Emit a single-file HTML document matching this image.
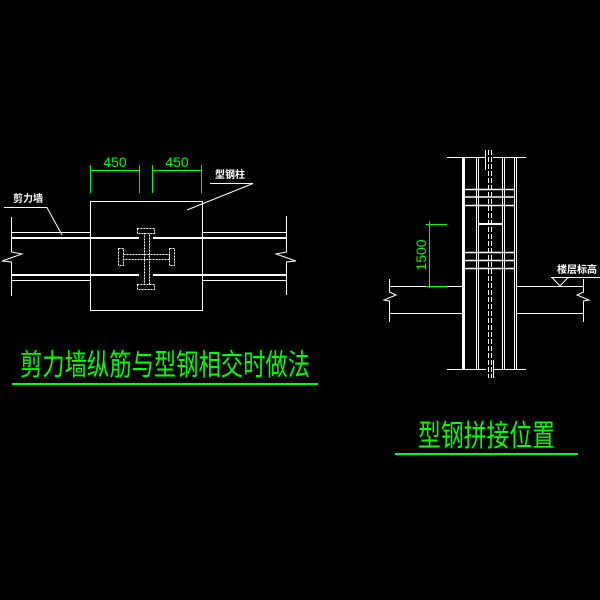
<!DOCTYPE html>
<html><head><meta charset="utf-8"><style>
html,body{margin:0;padding:0;background:#000;width:600px;height:600px;overflow:hidden}
svg{display:block}
.t{font-family:"Liberation Sans","Noto Sans CJK SC",sans-serif}
</style></head><body>
<svg width="600" height="600" viewBox="0 0 600 600" xmlns="http://www.w3.org/2000/svg">
<rect width="600" height="600" fill="#000"/>
<g stroke="#fff" stroke-width="1" fill="none">
<!-- left drawing -->
<rect x="90.5" y="201.5" width="112" height="109"/>
<line x1="11" y1="232.5" x2="90" y2="232.5"/>
<line x1="11" y1="238" x2="139" y2="238" stroke-width="2"/>
<line x1="153" y1="238" x2="286" y2="238" stroke-width="2"/>
<line x1="202" y1="232.5" x2="286" y2="232.5"/>
<line x1="11" y1="275" x2="139" y2="275" stroke-width="2"/>
<line x1="153" y1="275" x2="286" y2="275" stroke-width="2"/>
<line x1="11" y1="280.5" x2="90" y2="280.5"/>
<line x1="202" y1="280.5" x2="286" y2="280.5"/>
<polyline points="11.5,217 11.5,252 22,254 2,261 11.5,262 11.5,296"/>
<polyline points="286.5,216 286.5,252 276,254 296,261 286.5,262 286.5,295"/>
<polyline points="4,207.5 47,207.5 62,235"/>
<polyline points="210,183.5 253,183.5 187,210"/>
<!-- I beam cross -->
<g stroke-dasharray="2,1">
<rect x="137.5" y="228.5" width="17" height="5"/>
<rect x="137.5" y="284.5" width="17" height="5"/>
<rect x="144.5" y="233.5" width="5" height="51"/>
<rect x="118.5" y="248.5" width="5" height="17"/>
<rect x="169.5" y="248.5" width="5" height="17"/>
<rect x="123.5" y="254.5" width="46" height="5"/>
</g>
<!-- right drawing -->
<line x1="447" y1="157.5" x2="485" y2="157.5"/>
<line x1="493" y1="157.5" x2="526" y2="157.5"/>
<line x1="447" y1="369.5" x2="486" y2="369.5"/>
<line x1="493" y1="369.5" x2="526" y2="369.5"/>
<rect x="462" y="157" width="3" height="213" fill="#fff" stroke="none"/>
<line x1="476.5" y1="157" x2="476.5" y2="370"/>
<line x1="478.5" y1="157" x2="478.5" y2="370"/>
<line x1="502.5" y1="157" x2="502.5" y2="370"/>
<line x1="504.5" y1="157" x2="504.5" y2="370"/>
<line x1="514.5" y1="157" x2="514.5" y2="370"/>
<line x1="516.5" y1="157" x2="516.5" y2="370"/>
<line x1="488.5" y1="150" x2="488.5" y2="378" stroke-dasharray="5,2"/>
<line x1="491.5" y1="150" x2="491.5" y2="378" stroke-dasharray="5,2"/>
<line x1="485.5" y1="150" x2="485.5" y2="170"/>
<line x1="493.5" y1="360" x2="493.5" y2="378"/>
<g stroke-width="1.5">
<line x1="465" y1="189.5" x2="514" y2="189.5"/>
<line x1="465" y1="197" x2="514" y2="197"/>
<line x1="465" y1="205.5" x2="514" y2="205.5"/>
<line x1="465" y1="252.5" x2="514" y2="252.5"/>
<line x1="465" y1="260.5" x2="514" y2="260.5"/>
<line x1="465" y1="268.5" x2="514" y2="268.5"/>
<line x1="478" y1="224" x2="503" y2="224" stroke-width="2"/>
</g>
<polyline points="389.5,279 389.5,292 396,295 384,300 389.5,301 389.5,322"/>
<line x1="389" y1="286.5" x2="462" y2="286.5"/>
<line x1="389" y1="313.5" x2="462" y2="313.5"/>
<line x1="517" y1="286.5" x2="583" y2="286.5"/>
<line x1="517" y1="313.5" x2="583" y2="313.5"/>
<polyline points="583.5,279 583.5,292 577,295 589,300 583.5,301 583.5,322"/>
<line x1="551" y1="277.5" x2="600" y2="277.5"/>
<polyline points="552,277.5 560,286 568,277.5"/>
</g>
<!-- green dims -->
<g stroke="#0f0" stroke-width="1" fill="none">
<line x1="90" y1="170.5" x2="139" y2="170.5"/>
<line x1="152" y1="170.5" x2="201" y2="170.5"/>
<line x1="90.5" y1="165" x2="90.5" y2="193"/>
<line x1="139.5" y1="165" x2="139.5" y2="193"/>
<line x1="152.5" y1="165" x2="152.5" y2="193"/>
<line x1="201.5" y1="165" x2="201.5" y2="193"/>
<line x1="429.5" y1="221" x2="429.5" y2="288"/>
<line x1="426" y1="224.5" x2="447" y2="224.5"/>
<line x1="426" y1="286.5" x2="447" y2="286.5"/>
<line x1="12" y1="384" x2="318" y2="384" stroke-width="2"/>
<line x1="395" y1="454" x2="578" y2="454" stroke-width="2"/>
</g>
<g class="t" fill="#0f0">
<text x="115" y="167" font-size="14" text-anchor="middle">450</text>
<text x="177" y="167" font-size="14" text-anchor="middle">450</text>
<text transform="translate(426,255) rotate(-90)" font-size="14" text-anchor="middle">1500</text>
<text transform="translate(20,375) scale(1,1.35)" font-size="22" textLength="290" lengthAdjust="spacingAndGlyphs">剪力墙纵筋与型钢相交时做法</text>
<text transform="translate(418,446) scale(1,1.3)" font-size="23" textLength="137" lengthAdjust="spacingAndGlyphs">型钢拼接位置</text>
</g>
<g class="t" fill="#fff" font-size="10" font-weight="bold">
<text x="13" y="202">剪力墙</text>
<text x="215" y="178">型钢柱</text>
<text x="557" y="273">楼层标高</text>
</g>
</svg>
</body></html>
